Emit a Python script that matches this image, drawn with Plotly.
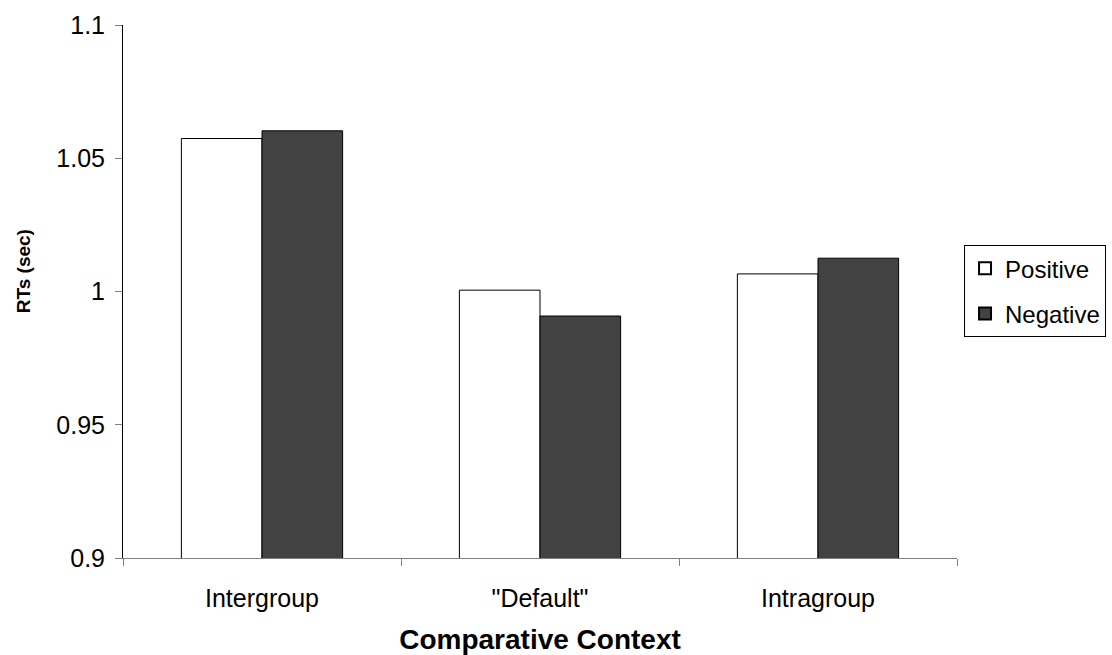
import plotly.graph_objects as go

contexts = ["Intergroup", "\"Default\"", "Intragroup"]
positive = [1.0574, 1.0005, 1.0066]
negative = [1.0603, 0.9908, 1.0125]

y_ticks = [0.9, 0.95, 1.0, 1.05, 1.1]
y_tick_text = ["0.9", "0.95", "1", "1.05", "1.1"]

font_family = "Liberation Sans, Arial, sans-serif"

fig = go.Figure()
fig.add_trace(go.Bar(
    name="Positive", x=contexts, y=positive, base=0, legendgroup="pos",
    marker=dict(color="#ffffff", line=dict(color="#000000", width=1)),
))
fig.add_trace(go.Bar(
    name="Negative", x=contexts, y=negative, base=0, legendgroup="neg",
    marker=dict(color="#424242", line=dict(color="#000000", width=1)),
))

fig.update_layout(
    width=1112, height=655,
    margin=dict(l=123, r=155, t=25, b=97, autoexpand=False),
    paper_bgcolor="#ffffff", plot_bgcolor="#ffffff",
    barmode="group", bargap=0.42, bargroupgap=0,
    font=dict(family=font_family, size=25, color="#000000"),
    showlegend=True,
    legend=dict(
        x=1.1787, y=0.587, xanchor="right", yanchor="top",
        bordercolor="#000000", borderwidth=1,
        font=dict(size=24), itemsizing="constant",
        tracegroupgap=11,
    ),
    xaxis=dict(
        showline=True, linecolor="#808080", linewidth=1,
        ticks="outside", tickson="boundaries", ticklen=7, tickcolor="#808080",
        showgrid=False, automargin=False,
        title=dict(text="<b>Comparative Context</b>", font=dict(size=28), standoff=19),
        tickfont=dict(size=25),
        ticklabelstandoff=18,
    ),
    yaxis=dict(
        range=[0.9, 1.1],
        tickvals=y_ticks, ticktext=y_tick_text,
        showline=True, linecolor="#000000", linewidth=1,
        ticks="outside", ticklen=7, tickcolor="#808080",
        showgrid=False, zeroline=False, automargin=False,
        tickfont=dict(size=25),
        ticklabelstandoff=5,
    ),
    annotations=[dict(
        text="<b>RTs (sec)</b>", textangle=-90,
        xref="paper", yref="paper", x=-0.12, y=0.538,
        xanchor="center", yanchor="middle", showarrow=False,
        font=dict(size=19),
    )],
)

fig.write_html("out.html")
